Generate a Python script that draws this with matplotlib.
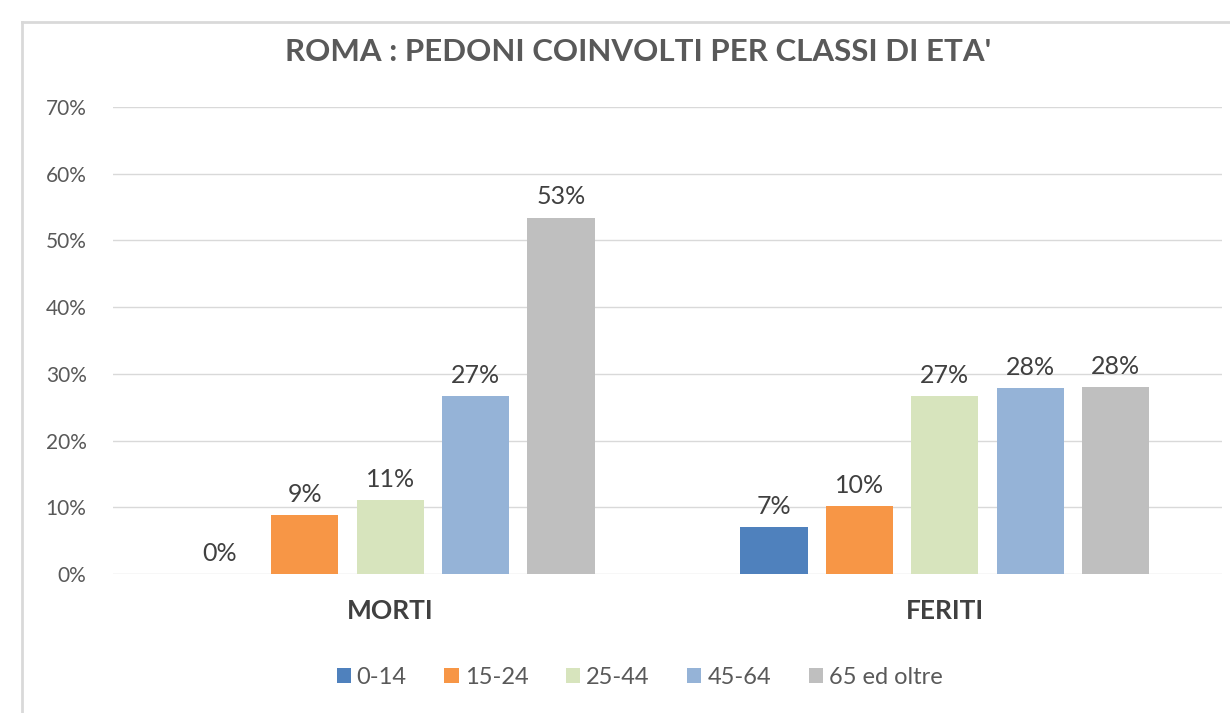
import matplotlib.pyplot as plt
import numpy as np

# data
categories = ['MORTI', 'FERITI']
age_classes = ['0-14', '15-24', '25-44', '45-64', '65 ed oltre']
values = {
    '0-14': [0.0, 7.05],
    '15-24': [8.85, 10.2],
    '25-44': [11.1, 26.7],
    '45-64': [26.7, 27.9],
    '65 ed oltre': [53.4, 28.0],
}
labels = {
    '0-14': ['0%', '7%'],
    '15-24': ['9%', '10%'],
    '25-44': ['11%', '27%'],
    '45-64': ['27%', '28%'],
    '65 ed oltre': ['53%', '28%'],
}
colors = ['#4F81BD', '#F79646', '#D7E4BD', '#95B3D7', '#BFBFBF']
yticks = [0, 10, 20, 30, 40, 50, 60, 70]

plt.rcParams['font.family'] = ['Lato', 'DejaVu Sans']

fig = plt.figure(figsize=(12.3, 7.13), dpi=100)
ax = fig.add_axes([113 / 1230, 1 - 574 / 713, 1109 / 1230, 467 / 713])

# chart frame (left and top edges visible)
fig.add_artist(plt.Line2D([22 / 1230, 22 / 1230], [0, 1 - 22 / 713], transform=fig.transFigure,
                          color='#D9D9D9', lw=2))
fig.add_artist(plt.Line2D([22 / 1230, 1], [1 - 22 / 713, 1 - 22 / 713], transform=fig.transFigure,
                          color='#D9D9D9', lw=2))

x = np.arange(len(categories))
step = 0.154
width = 0.121
for i, (name, col) in enumerate(zip(age_classes, colors)):
    pos = x + (i - 2) * step
    ax.bar(pos, values[name], width=width, color=col, label=name, zorder=3)
    for p, v, t in zip(pos, values[name], labels[name]):
        ax.text(p, v + 1.4, t, ha='center', va='bottom', fontsize=18, color='#404040')

ax.set_xlim(-0.5, 1.5)
ax.set_ylim(0, 70)
ax.set_yticks(yticks)
ax.set_yticklabels([f'{t}%' for t in yticks], fontsize=15, color='#595959')
ax.set_xticks(x)
ax.set_xticklabels(categories, fontsize=19, fontweight='bold', color='#404040')
ax.tick_params(axis='both', length=0)
ax.tick_params(axis='x', pad=18)
ax.tick_params(axis='y', pad=19)
ax.grid(axis='y', color='#D9D9D9', lw=1, zorder=0)
for s in ax.spines.values():
    s.set_visible(False)

fig.text(0.519, 1 - 52 / 713, "ROMA : PEDONI COINVOLTI PER CLASSI DI ETA'", ha='center', va='center',
         fontsize=22.5, fontweight='bold', color='#595959')

fig.legend(loc='center', bbox_to_anchor=(0.52, 1 - 677 / 713), ncol=5, frameon=False,
           handlelength=0.6, handleheight=0.6, handletextpad=0.25,
           columnspacing=1.6, labelcolor='#595959', prop={'size': 17})

fig.savefig('out.png', dpi=100)
